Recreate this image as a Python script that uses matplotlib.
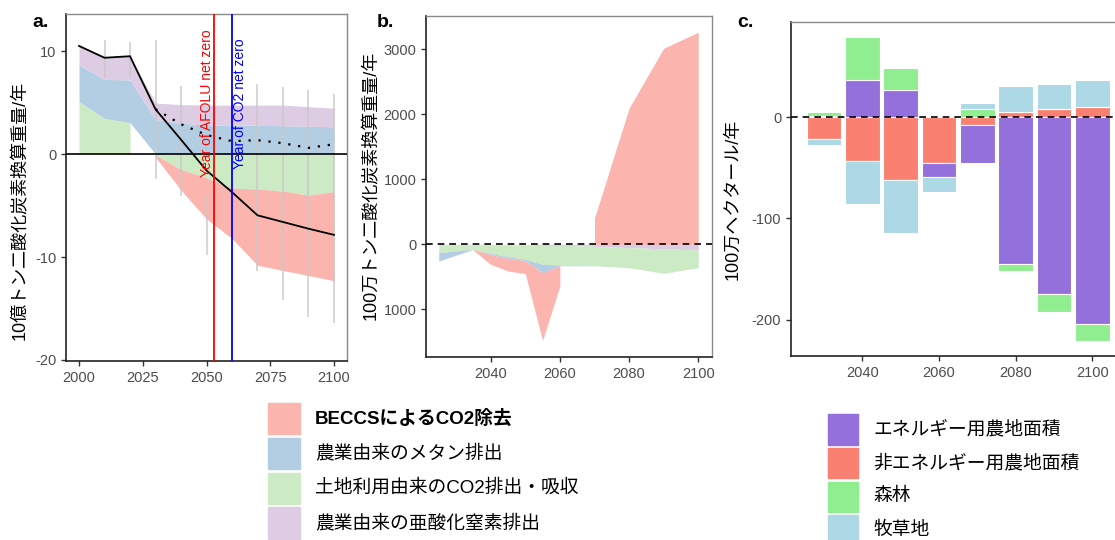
import matplotlib.pyplot as plt
import matplotlib.patches as mpatches
import numpy as np

plt.rcParams['font.family'] = ['Liberation Sans', 'Noto Sans CJK JP']
plt.rcParams['axes.unicode_minus'] = False

# ── DATA ──────────────────────────────────────────────────
# panel a: global AFOLU emissions (Gt CO2e / yr)
years_a   = [2000, 2010, 2020, 2030, 2040, 2050, 2060, 2070, 2080, 2090, 2100]
land_a    = [5.1, 3.45, 3.05, -0.1, -1.5, -2.3, -3.3, -3.4, -3.6, -4.0, -3.65]
beccs_a   = [0, 0, 0, -0.2, -2.0, -4.0, -4.9, -7.4, -7.7, -7.8, -8.65]
methane_a = [3.55, 3.8, 4.15, 3.35, 3.0, 2.8, 2.8, 2.8, 2.75, 2.7, 2.65]
n2o_a     = [1.85, 2.1, 2.3, 1.6, 1.8, 1.95, 1.95, 1.95, 2.0, 1.9, 1.8]
net_a     = [10.5, 9.35, 9.5, 4.35, 1.4, -1.6, -3.7, -5.95, -6.6, -7.25, -7.85]
dot_years = [2030, 2040, 2050, 2060, 2070, 2080, 2090, 2100]
dot_a     = [4.35, 2.9, 1.85, 1.25, 1.35, 1.05, 0.6, 0.95]
err_years = [2010, 2020, 2030, 2040, 2050, 2070, 2080, 2090, 2100]
err_hi    = [11.1, 10.9, 11.1, 6.6, -4.1, 6.8, 6.5, 6.2, 5.8]
err_lo    = [7.4, 7.5, -2.4, -4.1, -9.8, -11.4, -14.2, -15.8, -16.4]
afolu_zero = 2053
co2_zero   = 2060

# panel b: difference (Mt CO2e / yr)
years_b   = [2025, 2035, 2040, 2045, 2050, 2055, 2060, 2070, 2080, 2090, 2100]
n2o_b     = [-3, -3, -5, -8, -10, -20, -15, -30, -50, -70, -85]
land_b    = [-125, -74, -135, -182, -220, -288, -303, -300, -310, -376, -275]
methane_b = [-128, 0, -20, -25, -20, -128, -12, 0, 0, 0, 0]
beccs_b   = [0, -13, -148, -195, -201, -1041, -311, 400, 2092, 3015, 3262]
b_ticks   = [-1000, 0, 1000, 2000, 3000]
b_labels  = ['1000', '0', '1000', '2000', '3000']

# panel c: land area change (Mha / yr)
years_c     = [2030, 2040, 2050, 2060, 2070, 2080, 2090, 2100]
nonenergy_c = [-21.5, -43, -62.4, -45.2, -7.9, 5, 8.6, 10.2]
energy_c    = [1.5, 37, 27, -13.9, -37, -145.2, -174.3, -204.6]
forest_c    = [4.0, 42.5, 21.5, 1.2, 7.9, -6.6, -18.2, -16.5]
pasture_c   = [-5.9, -42.5, -51.8, -14.5, 5.9, 26.4, 24.1, 27]

legend_a = ['BECCSによるCO2除去', '農業由来のメタン排出',
            '土地利用由来のCO2排出・吸収', '農業由来の亜酸化窒素排出']
legend_c = ['エネルギー用農地面積', '非エネルギー用農地面積', '森林', '牧草地']

# ── STYLE ─────────────────────────────────────────────────
P_RED, P_BLUE, P_GREEN, P_PURPLE = '#FBB4AE', '#B3CDE3', '#CCEBC5', '#DECBE4'
C_ENERGY, C_NONEN, C_FOREST, C_PAST = '#9370DB', '#FA8072', '#90EE90', '#ADD8E6'

W, H = 1115, 540
fig = plt.figure(figsize=(W / 100, H / 100), dpi=100)


def style(ax):
    for s in ['left', 'bottom']:
        ax.spines[s].set_color('#222222'); ax.spines[s].set_linewidth(1.2)
    for s in ['top', 'right']:
        ax.spines[s].set_color('#8a8a8a'); ax.spines[s].set_linewidth(1.0)
    ax.tick_params(length=3.5, width=1, color='#333333',
                   labelcolor='#4D4D4D', labelsize=10.5)


ax1 = fig.add_axes([66 / W, 1 - 361 / H, 281 / W, 347 / H])
ax2 = fig.add_axes([426 / W, 1 - 357 / H, 285.7 / W, 341 / H])
ax3 = fig.add_axes([791 / W, 1 - 356 / H, 329 / W, 333.7 / H])

# ── a. ────────────────────────────────────────────────────
ya = np.array(years_a)
land = np.array(land_a)
pos = np.maximum(land, 0)
neg = np.minimum(land, 0)
meth_top = pos + np.array(methane_a)
n2o_top = meth_top + np.array(n2o_a)
beccs = np.array(beccs_a)

ax1.fill_between(ya, 0, land, where=land > 0, color=P_GREEN, lw=0)
ax1.fill_between(ya, 0, land, where=land < 0, color=P_GREEN, lw=0)
ax1.fill_between(ya, neg, neg + beccs, where=beccs < 0, color=P_RED, lw=0)
ax1.fill_between(ya, pos, meth_top, color=P_BLUE, lw=0)
ax1.fill_between(ya, meth_top, n2o_top, color=P_PURPLE, lw=0)

ax1.vlines(err_years, err_lo, err_hi, color='#c8c8c8', lw=1.3, alpha=0.8, zorder=3)
ax1.axhline(0, color='black', lw=1.2, zorder=4)
ax1.plot(ya, net_a, color='black', lw=1.3, zorder=5)
ax1.plot(dot_years, dot_a, color='black', lw=1.6, ls=(0, (1, 3.5)), zorder=5)
ax1.axvline(afolu_zero, color='red', lw=1.3, zorder=6)
ax1.axvline(co2_zero, color='blue', lw=1.3, zorder=6)
ax1.text(afolu_zero, 4.9, 'Year of AFOLU net zero', rotation=90, color='red',
         ha='right', va='center', fontsize=10, zorder=7)
ax1.text(co2_zero + 0.4, 4.9, 'Year of CO2 net zero', rotation=90, color='blue',
         ha='left', va='center', fontsize=10, zorder=7)

ax1.set_xlim(1994.9, 2105.1)
ax1.set_ylim(-20.1, 13.6)
ax1.set_xticks([2000, 2025, 2050, 2075, 2100])
ax1.set_yticks([-20, -10, 0, 10])
style(ax1)

# ── b. ────────────────────────────────────────────────────
yb = np.array(years_b)
b1 = np.array(n2o_b)
b2 = b1 + np.array(land_b)
b3 = b2 + np.array(methane_b)
bb = np.array(beccs_b)

ax2.fill_between(yb, 0, b1, color=P_PURPLE, lw=0)
ax2.fill_between(yb, b1, b2, color=P_GREEN, lw=0)
ax2.fill_between(yb, b2, b3, color=P_BLUE, lw=0)
ax2.fill_between(yb, b3, b3 + bb, where=bb < 0, color=P_RED, lw=0)
ax2.fill_between(yb, 0, bb, where=bb > 0, color=P_RED, lw=0)
ax2.axhline(0, color='black', lw=1.2, ls=(0, (4, 3)), zorder=5)

ax2.set_xlim(2021.3, 2103.9)
ax2.set_ylim(-1733, 3512)
ax2.set_xticks([2040, 2060, 2080, 2100])
ax2.set_yticks(b_ticks)
ax2.set_yticklabels(b_labels)
style(ax2)

# ── c. ────────────────────────────────────────────────────
pos_b = np.zeros(len(years_c))
neg_b = np.zeros(len(years_c))
for vals, col in [(nonenergy_c, C_NONEN), (energy_c, C_ENERGY),
                  (forest_c, C_FOREST), (pasture_c, C_PAST)]:
    v = np.array(vals)
    bottom = np.where(v >= 0, pos_b, neg_b)
    ax3.bar(years_c, v, bottom=bottom, width=9, color=col,
            edgecolor='white', linewidth=0.8, zorder=2)
    pos_b = pos_b + np.where(v >= 0, v, 0)
    neg_b = neg_b + np.where(v < 0, v, 0)
ax3.axhline(0, color='black', lw=1.2, ls=(0, (4, 3)), zorder=5)

ax3.set_xlim(2021.4, 2107.2)
ax3.set_ylim(-236, 94)
ax3.set_xticks([2040, 2060, 2080, 2100])
ax3.set_yticks([-200, -100, 0])
style(ax3)

# ── labels ────────────────────────────────────────────────
fig.text(20 / W, 1 - 210 / H, '10億トン二酸化炭素換算重量/年', rotation=90,
         ha='center', va='center', fontsize=13)
fig.text(371 / W, 1 - 185 / H, '100万トン二酸化炭素換算重量/年', rotation=90,
         ha='center', va='center', fontsize=13)
fig.text(733 / W, 1 - 199 / H, '100万ヘクタール/年', rotation=90,
         ha='center', va='center', fontsize=13)
for x, lab in [(32, 'a.'), (377, 'b.'), (737, 'c.')]:
    fig.text(x / W, 1 - 27 / H, lab, fontsize=14, fontweight='bold', va='baseline')

# ── legends ───────────────────────────────────────────────
for i, (lab, col) in enumerate(zip(legend_a, [P_RED, P_BLUE, P_GREEN, P_PURPLE])):
    top = 402.7 + i * 34.9
    fig.patches.append(mpatches.Rectangle((268 / W, 1 - (top + 31.6) / H), 32 / W, 31.6 / H,
                                          color=col, transform=fig.transFigure))
    fig.text(315 / W, 1 - (top + 15.8) / H, lab, fontsize=13.5, va='center',
             fontweight='bold' if i == 0 else 'normal')

for i, (lab, col) in enumerate(zip(legend_c, [C_ENERGY, C_NONEN, C_FOREST, C_PAST])):
    top = 414.3 + i * 33.6
    fig.patches.append(mpatches.Rectangle((828 / W, 1 - (top + 30.5) / H), 30 / W, 30.5 / H,
                                          color=col, transform=fig.transFigure))
    fig.text(873 / W, 1 - (top + 15.2) / H, lab, fontsize=13.5, va='center')

fig.savefig('out.png', dpi=100)
